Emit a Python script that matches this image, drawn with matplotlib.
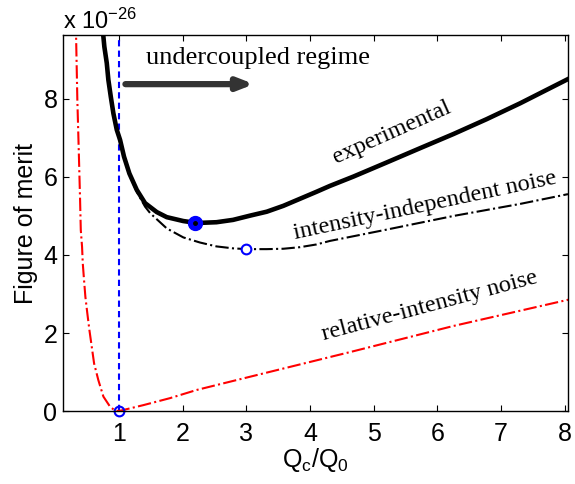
import numpy as np
import matplotlib
matplotlib.use("Agg")
import matplotlib.pyplot as plt

plt.rcParams['font.family'] = ['Liberation Sans', 'DejaVu Sans']
plt.rcParams['mathtext.fontset'] = 'custom'
plt.rcParams['mathtext.rm'] = 'Liberation Sans'
plt.rcParams['mathtext.it'] = 'Liberation Sans'

# figure of merit in units of 1e-26, versus coupling ratio Qc/Q0
exp_q = [0.744, 0.769, 0.807, 0.832, 0.870, 0.911, 0.964, 1.016, 1.078,
         1.162, 1.278, 1.408, 1.592, 1.749, 2.009, 2.22, 2.53, 2.79, 3.06,
         3.32, 3.58, 3.84, 4.10, 4.31, 4.68, 5.20, 5.73, 6.25, 6.77, 7.30,
         7.82, 8.05]
exp_fom = [9.77, 9.34, 8.92, 8.49, 8.06, 7.63, 7.21, 6.95, 6.52, 6.09, 5.67,
           5.33, 5.10, 4.97, 4.87, 4.82, 4.84, 4.90, 5.01, 5.11, 5.26, 5.44,
           5.62, 5.77, 6.01, 6.37, 6.74, 7.10, 7.48, 7.89, 8.32, 8.51]

indep_q = [0.744, 0.807, 0.870, 0.964, 1.016, 1.078, 1.162, 1.278, 1.408,
           1.49, 1.75, 2.01, 2.27, 2.53, 2.79, 3.01, 3.32, 3.58, 3.84, 4.10,
           4.31, 5.2, 6.25, 7.3, 8.05]
indep_fom = [9.74, 8.89, 8.04, 7.20, 6.94, 6.50, 6.06, 5.62, 5.24, 5.07,
             4.68, 4.45, 4.32, 4.22, 4.17, 4.15, 4.15, 4.16, 4.20, 4.27,
             4.36, 4.65, 5.00, 5.31, 5.56]

rin_q = [0.31, 0.325, 0.345, 0.367, 0.388, 0.399, 0.419, 0.43, 0.45, 0.471,
         0.502, 0.534, 0.571, 0.608, 0.675, 0.754, 0.859, 0.937, 1.0, 1.38,
         1.8, 2.22, 3.06, 4.65, 6.25, 8.1]
rin_fom = [10.6, 9.62, 7.97, 6.69, 5.41, 4.64, 4.21, 3.79, 3.36, 2.93,
           2.50, 2.08, 1.65, 1.22, 0.79, 0.37, 0.11, 0.01, 0.0, 0.15,
           0.33, 0.54, 0.88, 1.52, 2.18, 2.87]

critical_q = 1.0
exp_min = (2.2, 4.83)
indep_min = (3.0, 4.15)

fig = plt.figure(figsize=(5.75, 4.84), dpi=100)
ax = fig.add_axes([0.1096, 0.1508, 0.8782, 0.7769])

ax.axvline(critical_q, color='b', ls='--', lw=1.5, dashes=(3, 2))
ax.plot(rin_q, rin_fom, color='r', ls='-.', lw=1.5)
ax.plot(indep_q, indep_fom, color='k', ls='-.', lw=1.5)
ax.plot(exp_q, exp_fom, color='k', lw=3.3, solid_joinstyle='round')

ax.plot(critical_q, 0, 'o', mfc='none', mec='b', mew=1.5, ms=7, clip_on=False)
ax.plot(*indep_min, 'o', mfc='white', mec='b', mew=1.5, ms=7)
ax.plot(*exp_min, 'o', mfc='b', mec='b', ms=10)
ax.plot(*exp_min, 'o', color='k', ms=2.5)

ax.annotate('', xy=(3.12, 8.38), xytext=(1.1, 8.38),
            arrowprops=dict(arrowstyle='-|>,head_length=0.9,head_width=0.35',
                            color='#333333', lw=4.5, shrinkA=0, shrinkB=0))

serif = dict(family='Liberation Serif', ha='center', va='center')
ax.text(3.18, 9.05, 'undercoupled regime', fontsize=19, **serif)
ax.text(5.29, 7.15, 'experimental', rotation=24, fontsize=17.5, **serif)
ax.text(5.80, 5.27, 'intensity-independent noise', rotation=12,
        fontsize=17.5, **serif)
ax.text(5.88, 2.70, 'relative-intensity noise', rotation=15,
        fontsize=17.5, **serif)

ax.set_xlim(0.12, 8.05)
ax.set_ylim(0, 9.64)
ax.set_xticks(np.arange(1, 9))
ax.set_yticks([0, 2, 4, 6, 8])
ax.tick_params(direction='in', length=4, width=0.8, top=True, right=True,
               labelsize=18)
ax.tick_params(axis='x', pad=8)
ax.tick_params(axis='y', pad=4)
for s in ax.spines.values():
    s.set_linewidth(1.0)

ax.set_xlabel('Q$_\\mathrm{c}$/Q$_0$', fontsize=18, labelpad=0)
ax.set_ylabel('Figure of merit', fontsize=18, labelpad=4)
fig.text(0.1096, 0.940, 'x 10$^{-26}$', fontsize=17, ha='left',
         va='baseline')

fig.savefig('out.png', dpi=100)
